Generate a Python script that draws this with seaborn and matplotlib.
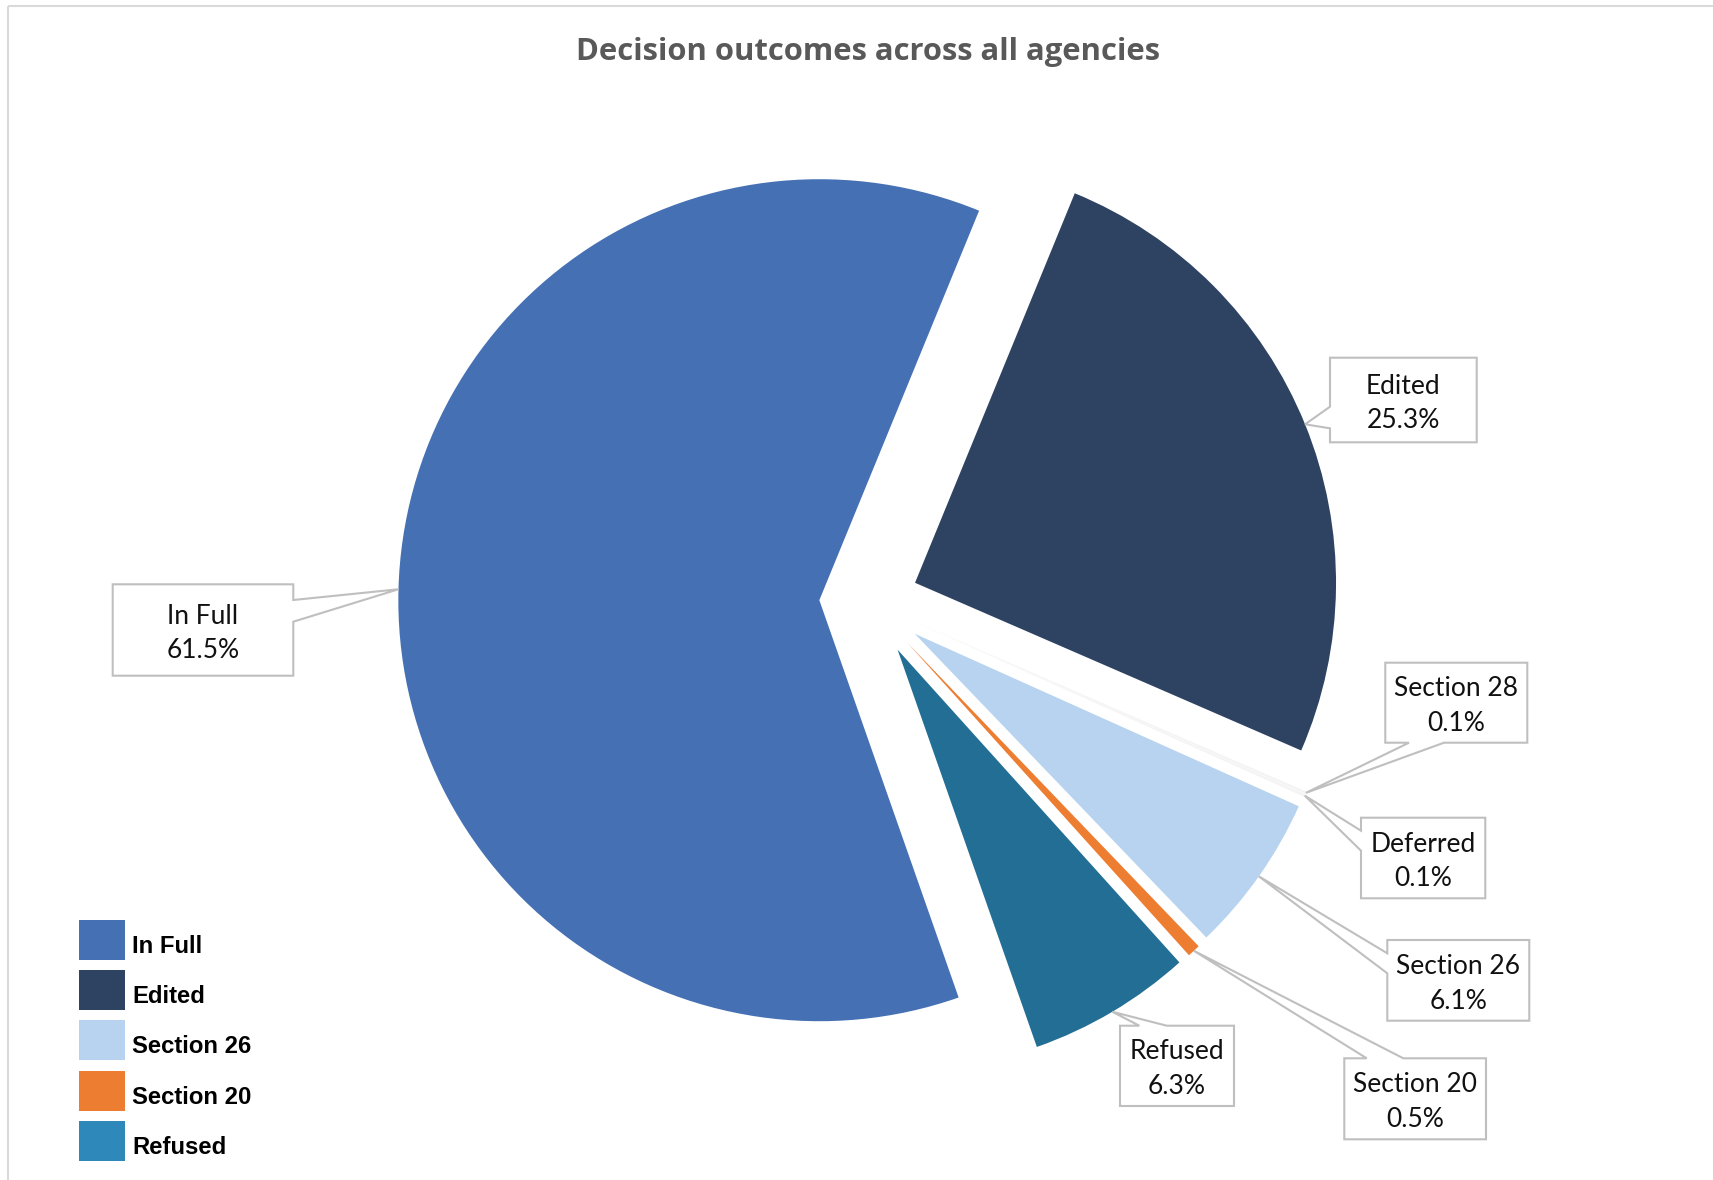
import matplotlib
matplotlib.use("Agg")
import matplotlib.pyplot as plt
import seaborn as sns
import numpy as np
from matplotlib.patches import Polygon, Rectangle

sns.set_theme(style="white")
plt.rcParams["font.family"] = ["Lato", "DejaVu Sans"]

# Slices in drawing order (clockwise, starting just right of the top)
outcomes = ["Edited", "Section 28", "Deferred", "Section 26", "Section 20", "Refused", "In Full"]
shares = [25.3, 0.1, 0.1, 6.1, 0.5, 6.3, 61.5]
slice_colors = ["#2E4262", "#F4F4F4", "#F4F4F4", "#B7D3EF", "#ED7D31", "#236E94", "#4571B4"]
explode_frac = [0.118, 0.133, 0.133, 0.133, 0.133, 0.133, 0.118]

# Legend entries
legend_labels = ["In Full", "Edited", "Section 26", "Section 20", "Refused"]
legend_colors = ["#4571B4", "#2E4262", "#B7D3EF", "#ED7D31", "#2E88BA"]

title = "Decision outcomes across all agencies"

W, H = 1713, 1180
RADIUS = 421
fig = plt.figure(figsize=(W / 100, H / 100), dpi=100)
ax = fig.add_axes([0, 0, 1, 1])

# matplotlib offsets exploded wedges in data units, so scale by the radius
wedges, _ = ax.pie(
    shares,
    colors=slice_colors,
    explode=[e * RADIUS for e in explode_frac],
    startangle=-67.7,
    counterclock=True,
    center=(869, 601.5),
    radius=RADIUS,
    wedgeprops=dict(linewidth=0),
    normalize=True,
)
ax.set_xlim(0, W)
ax.set_ylim(H, 0)
ax.set_aspect("equal")
ax.axis("off")

# Callout boxes: (x0, y0, x1, y1), side where the pointer leaves, pointer base
callouts = {
    "In Full": ((112.7, 584.3, 293.3, 675.7), "right", (600, 621.7)),
    "Edited": ((1330, 357.7, 1476.7, 442.3), "left", (406.7, 428.3)),
    "Section 28": ((1385.3, 662.7, 1527.3, 742.7), "bottom", (1409, 1444)),
    "Deferred": ((1361, 817.7, 1485.3, 898.3), "left", (830.7, 850.7)),
    "Section 26": ((1387.3, 940, 1529.3, 1020.7), "left", (953.3, 973.3)),
    "Section 20": ((1344.3, 1058.3, 1486, 1139.3), "top", (1366.7, 1403.3)),
    "Refused": ((1120, 1025.7, 1234, 1106), "top", (1139.3, 1166.7)),
}


def callout(box, side, base, tip, text):
    x0, y0, x1, y1 = box
    a, b = sorted(base)
    if side == "top":
        pts = [(x0, y0), (a, y0), tip, (b, y0), (x1, y0), (x1, y1), (x0, y1)]
    elif side == "right":
        pts = [(x0, y0), (x1, y0), (x1, a), tip, (x1, b), (x1, y1), (x0, y1)]
    elif side == "bottom":
        pts = [(x0, y0), (x1, y0), (x1, y1), (b, y1), tip, (a, y1), (x0, y1)]
    else:
        pts = [(x0, y0), (x1, y0), (x1, y1), (x0, y1), (x0, b), tip, (x0, a)]
    ax.add_patch(Polygon(pts, closed=True, facecolor="white", edgecolor="#BFBFBF",
                         linewidth=1.5, joinstyle="miter", zorder=3))
    ax.text((x0 + x1) / 2, (y0 + y1) / 2 + 3.5, text, ha="center", va="center",
            fontsize=19, color="#111111", linespacing=1.5, zorder=4)


for w, name, val in zip(wedges, outcomes, shares):
    mid = np.deg2rad((w.theta1 + w.theta2) / 2)
    cx, cy = w.center
    tip = (cx + w.r * np.cos(mid), cy + w.r * np.sin(mid))
    box, side, base = callouts[name]
    callout(box, side, base, tip, f"{name}\n{val:.1f}%")

# Legend
for i, (lab, col) in enumerate(zip(legend_labels, legend_colors)):
    top = 920 + i * 50.2
    ax.add_patch(Rectangle((79, top), 46, 40, facecolor=col, edgecolor="none", zorder=3))
    ax.text(132, top + 26.5, lab, ha="left", va="center", fontsize=17.2,
            fontweight="bold", family=["Liberation Sans", "DejaVu Sans"], color="black")

# Title
ax.text(868, 52, title, ha="center", va="center", fontsize=22.3, fontweight="bold",
        family=["Open Sans", "DejaVu Sans"], color="#595959")

# Chart-area frame
ax.add_patch(Rectangle((7.5, 5.5), W, H, fill=False, edgecolor="#D9D9D9",
                       linewidth=1.5, zorder=5))

fig.savefig("out.png", dpi=100, facecolor="white")
